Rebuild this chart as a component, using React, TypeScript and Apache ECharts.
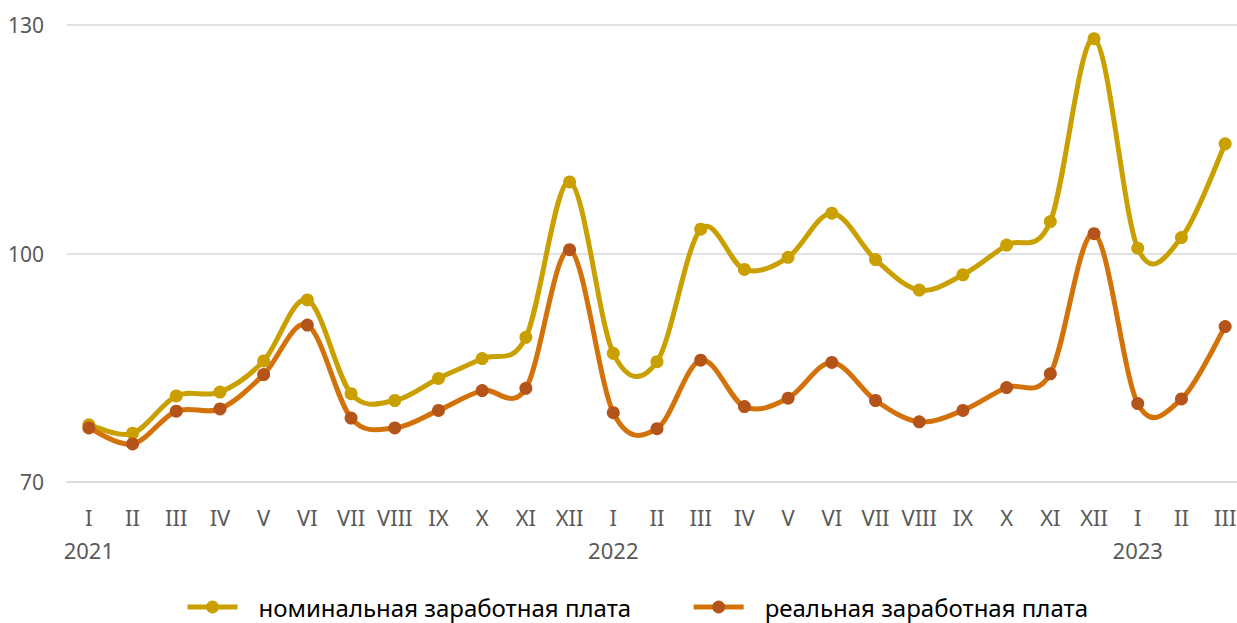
import React, { useEffect, useRef } from "react";
import * as echarts from "echarts";

const months = [
  "I", "II", "III", "IV", "V", "VI", "VII", "VIII", "IX", "X", "XI", "XII",
  "I", "II", "III", "IV", "V", "VI", "VII", "VIII", "IX", "X", "XI", "XII",
  "I", "II", "III",
];
const years = [
  "2021", "", "", "", "", "", "", "", "", "", "", "",
  "2022", "", "", "", "", "", "", "", "", "", "", "",
  "2023", "", "",
];
const nominal = [
  77.5, 76.4, 81.3, 81.8, 85.9, 93.9, 81.6, 80.7, 83.6, 86.2, 89.0, 109.4,
  86.9, 85.8, 103.2, 97.9, 99.5, 105.3, 99.2, 95.2, 97.2, 101.1, 104.2, 128.2,
  100.7, 102.1, 114.4,
];
const real = [
  77.1, 75.0, 79.3, 79.6, 84.1, 90.6, 78.4, 77.1, 79.4, 82.0, 82.3, 100.5,
  79.1, 77.0, 86.0, 79.9, 81.0, 85.7, 80.7, 77.9, 79.4, 82.4, 84.2, 102.6,
  80.3, 80.9, 90.4,
];
const yTicks = { min: 70, max: 130, interval: 30 };
const seriesNames = ["номинальная заработная плата", "реальная заработная плата"];

const FONT = "'Noto Sans', 'Open Sans', sans-serif";
const NOM_COLOR = "#C9A000";
const REAL_LINE = "#D4720A";
const REAL_MARK = "#B5541A";

// Excel-like smoothed segment (Catmull-Rom, tension 1/6) drawn through the axis scales
function curveSeries(values: number[], color: string, id: string) {
  return {
    id,
    name: id,
    type: "custom",
    coordinateSystem: "cartesian2d",
    silent: true,
    z: 2,
    data: values.map((v, i) => [i, v]),
    encode: { x: 0, y: 1 },
    renderItem: (params: any, api: any) => {
      const i = params.dataIndex;
      if (i >= values.length - 1) return null;
      const p = (k: number) => {
        const kk = Math.max(0, Math.min(values.length - 1, k));
        return api.coord([kk, values[kk]]);
      };
      const p0 = p(i - 1), p1 = p(i), p2 = p(i + 1), p3 = p(i + 2);
      const t = 1 / 6;
      const c1 = [p1[0] + (p2[0] - p0[0]) * t, p1[1] + (p2[1] - p0[1]) * t];
      const c2 = [p2[0] - (p3[0] - p1[0]) * t, p2[1] - (p3[1] - p1[1]) * t];
      return {
        type: "bezierCurve",
        shape: {
          x1: p1[0], y1: p1[1],
          cpx1: c1[0], cpy1: c1[1],
          cpx2: c2[0], cpy2: c2[1],
          x2: p2[0], y2: p2[1],
        },
        style: { stroke: color, lineWidth: 5, fill: null, lineCap: "round" },
      };
    },
  };
}

export default function App() {
  const ref = useRef<HTMLDivElement>(null);
  useEffect(() => {
    if (!ref.current) return;
    const chart = echarts.init(ref.current, undefined, { renderer: "svg" });
    chart.setOption({
      animation: false,
      backgroundColor: "#ffffff",
      textStyle: { fontFamily: FONT },
      grid: { left: 67, right: 0, top: 25, bottom: 141, containLabel: false },
      legend: {
        top: 595,
        left: 185,
        padding: 0,
        itemWidth: 50,
        itemHeight: 16,
        itemGap: 60,
        textStyle: {
          fontSize: 24,
          lineHeight: 24,
          color: "#000000",
          fontFamily: FONT,
          padding: [0, 0, 0, 16],
        },
        data: [
          { name: seriesNames[0], lineStyle: { width: 5, color: NOM_COLOR, opacity: 1 }, itemStyle: { color: NOM_COLOR } },
          { name: seriesNames[1], lineStyle: { width: 5, color: REAL_LINE, opacity: 1 }, itemStyle: { color: REAL_MARK } },
        ],
      },
      xAxis: {
        type: "category",
        data: months,
        boundaryGap: true,
        axisLine: { show: true, lineStyle: { color: "#D9D9D9", width: 1.5 } },
        axisTick: { show: false },
        axisLabel: {
          interval: 0,
          margin: 18,
          color: "#595959",
          fontSize: 22,
          lineHeight: 33,
          fontFamily: FONT,
          formatter: (v: string, i: number) => (years[i] ? `${v}\n${years[i]}` : v),
        },
      },
      yAxis: {
        type: "value",
        min: yTicks.min,
        max: yTicks.max,
        interval: yTicks.interval,
        axisLine: { show: false },
        axisTick: { show: false },
        axisLabel: { margin: 23, color: "#595959", fontSize: 21, fontFamily: FONT },
        splitLine: { lineStyle: { color: "#D9D9D9", width: 1.5 } },
      },
      series: [
        curveSeries(nominal, NOM_COLOR, "nominal-curve"),
        curveSeries(real, REAL_LINE, "real-curve"),
        {
          name: seriesNames[0],
          type: "line",
          data: nominal,
          z: 3,
          symbol: "circle",
          symbolSize: 13,
          lineStyle: { width: 0, opacity: 0 },
          itemStyle: { color: NOM_COLOR },
        },
        {
          name: seriesNames[1],
          type: "line",
          data: real,
          z: 3,
          symbol: "circle",
          symbolSize: 13,
          lineStyle: { width: 0, opacity: 0 },
          itemStyle: { color: REAL_MARK },
        },
      ],
    });
    return () => chart.dispose();
  }, []);
  return (
    <div
      ref={ref}
      style={{ position: "fixed", left: 0, top: 0, width: 1247, height: 623 }}
    />
  );
}
